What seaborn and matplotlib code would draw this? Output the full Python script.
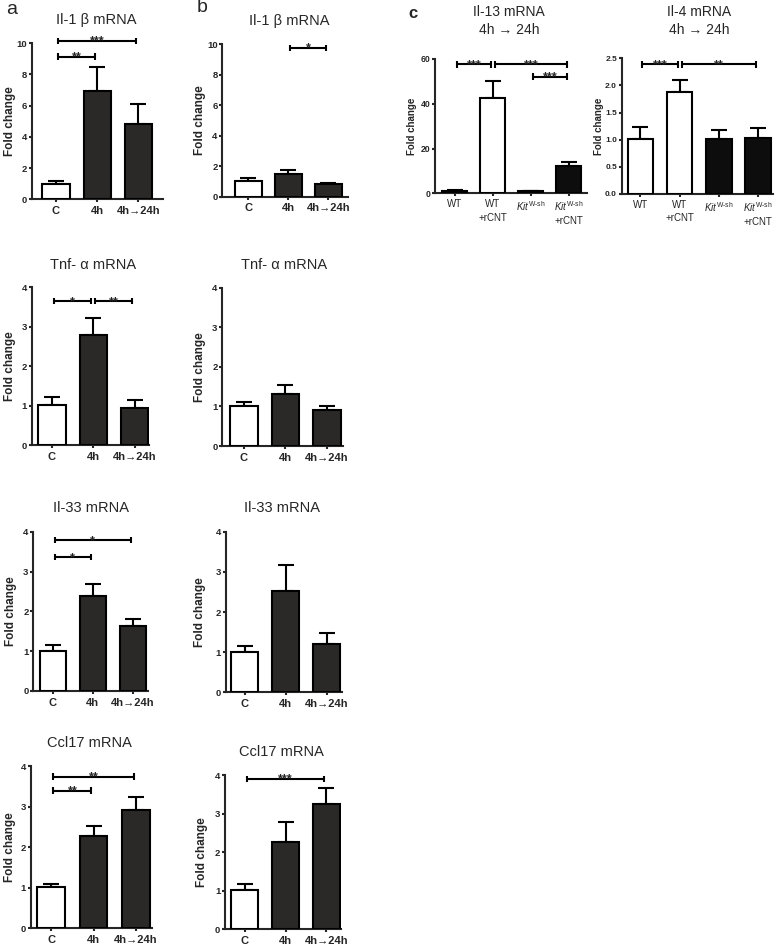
import numpy as np
import pandas as pd
import matplotlib
matplotlib.use('Agg')
import matplotlib.pyplot as plt
import seaborn as sns

sns.set_style('ticks')
plt.rcParams['font.family'] = ['Liberation Sans', 'DejaVu Sans']
plt.rcParams['mathtext.fontset'] = 'custom'
plt.rcParams['mathtext.rm'] = 'Liberation Sans'
plt.rcParams['mathtext.it'] = 'Liberation Sans:italic'
plt.rcParams['mathtext.bf'] = 'Liberation Sans:bold'

# ---------------- data ----------------
groups_ab = ['C', '4h', '4h→24h']
colors_ab = ['white', '#2b2828', '#2b2828']

il1b_a_mean = [1.0, 6.95, 4.85]
il1b_a_sem = [0.15, 1.5, 1.27]
il1b_b_mean = [1.0, 1.47, 0.81]
il1b_b_sem = [0.2, 0.28, 0.09]

tnf_a_mean = [1.01, 2.79, 0.95]
tnf_a_sem = [0.22, 0.44, 0.19]
tnf_b_mean = [1.02, 1.31, 0.91]
tnf_b_sem = [0.08, 0.23, 0.11]

il33_a_mean = [1.0, 2.38, 1.62]
il33_a_sem = [0.15, 0.31, 0.2]
il33_b_mean = [1.01, 2.52, 1.2]
il33_b_sem = [0.15, 0.66, 0.27]

ccl17_a_mean = [1.02, 2.27, 2.91]
ccl17_a_sem = [0.08, 0.25, 0.33]
ccl17_b_mean = [1.01, 2.27, 3.24]
ccl17_b_sem = [0.16, 0.52, 0.43]

groups_c = ['WT', 'WT\n+rCNT', r'$\mathit{Kit}^{\mathrm{W\text{-}sh}}$',
            r'$\mathit{Kit}^{\mathrm{W\text{-}sh}}$' + '\n+rCNT']
colors_c = ['white', 'white', '#0d0d0d', '#0d0d0d']
il13_mean = [1.0, 42.7, 1.0, 12.4]
il13_sem = [0.3, 7.4, 0.2, 1.5]
il4_mean = [1.02, 1.886, 1.01, 1.04]
il4_sem = [0.22, 0.22, 0.17, 0.18]

# significance: (i, j, y, label)
sig_il1b_a = [(0, 1, 9.15, '**'), (0, 2, 10.15, '***')]
sig_il1b_b = [(1, 2, 9.76, '*')]
sig_tnf_a = [(0, 1, 3.65, '*'), (1, 2, 3.65, '**')]
sig_il33_a = [(0, 1, 3.36, '*'), (0, 2, 3.79, '*')]
sig_ccl17_a = [(0, 1, 3.39, '**'), (0, 2, 3.74, '**')]
sig_ccl17_b = [(0, 2, 3.9, '***')]
sig_il13 = [(0, 1, 57.6, '***'), (1, 3, 57.6, '***'), (2, 3, 52.1, '***')]
sig_il4 = [(0, 1, 2.39, '***'), (1, 3, 2.39, '**')]

W, H = 778, 946
fig = plt.figure(figsize=(W / 100, H / 100), dpi=100)
fig.patch.set_facecolor('white')


def panel(rect, cats, means, errs, colors, ymax, yticks, xlim, sigs,
          ylab_x, title, title_xy, xbold=True, xsize=8.0, ylab_size=8.5,
          title_size=10.5, yfmt=None, ysize=6.8, xpad=2.4, xls=1.2):
    L, R, B, T = rect
    ax = fig.add_axes([L / W, 1 - B / H, (R - L) / W, (B - T) / H])
    df = pd.DataFrame({'group': cats, 'value': means})
    pal = dict(zip(cats, colors))
    sns.barplot(data=df, x='group', y='value', hue='group', order=cats,
                hue_order=cats, palette=pal, dodge=False, legend=False,
                width=0.66, edgecolor='black', linewidth=1.5, ax=ax,
                zorder=3)
    n = len(cats)
    ax.errorbar(np.arange(n), means, yerr=[np.zeros(n), errs], fmt='none',
                ecolor='black', elinewidth=1.5, capsize=5.5, capthick=1.5,
                zorder=2)
    ax.set_xlim(*xlim)
    ax.set_ylim(0, ymax)
    ax.set_yticks(yticks)
    if yfmt:
        ax.set_yticklabels([yfmt.format(v) for v in yticks])
    ax.set_xlabel('')
    ax.set_ylabel('')
    sns.despine(ax=ax)
    for s in ['left', 'bottom']:
        ax.spines[s].set_linewidth(1.5)
    ax.tick_params(axis='both', width=1.5, length=2.4, pad=1.0)
    ax.tick_params(axis='x', pad=xpad)
    for lab in ax.get_yticklabels():
        lab.set_fontweight('bold')
        lab.set_fontsize(ysize)
    for lab in ax.get_xticklabels():
        lab.set_fontweight('bold' if xbold else 'normal')
        lab.set_fontsize(xsize)
        lab.set_linespacing(xls)
    ax.set_facecolor('none')
    # brackets
    hpx = B - T
    dy = 3.3 / hpx * ymax
    for i, j, y, s in sigs:
        x1, x2 = i + 0.05, j - 0.05
        ax.plot([x1, x2], [y, y], color='black', lw=1.5, clip_on=False,
                solid_capstyle='butt')
        ax.plot([x1, x1], [y - dy, y + dy], color='black', lw=1.5,
                clip_on=False, solid_capstyle='butt')
        ax.plot([x2, x2], [y - dy, y + dy], color='black', lw=1.5,
                clip_on=False, solid_capstyle='butt')
        ax.annotate(s, xy=((i + j) / 2, y), xytext=(0, -2.6),
                    textcoords='offset points', ha='center', va='baseline',
                    fontsize=9, fontweight='bold', annotation_clip=False)
    fig.text(ylab_x / W, 1 - (B + T) / 2 / H, 'Fold change', rotation=90,
             ha='center', va='center', fontweight='bold', fontsize=ylab_size)
    fig.text(title_xy[0] / W, 1 - title_xy[1] / H, title, ha='center',
             va='center', fontsize=title_size, linespacing=1.35)
    return ax


# column a / b rows
panel((31.7, 163.3, 199.3, 43.3), groups_ab, il1b_a_mean, il1b_a_sem,
      colors_ab, 10, [0, 2, 4, 6, 8, 10], (-0.59, 2.61), sig_il1b_a,
      10, 'Il-1 β mRNA', (96, 20))
panel((222.3, 348.3, 196.7, 44.3), groups_ab, il1b_b_mean, il1b_b_sem,
      colors_ab, 10, [0, 2, 4, 6, 8, 10], (-0.65, 2.5), sig_il1b_b,
      200, 'Il-1 β mRNA', (289, 21.5))

panel((31.7, 149, 445, 287.3), groups_ab, tnf_a_mean, tnf_a_sem,
      colors_ab, 4, [0, 1, 2, 3, 4], (-0.49, 2.35), sig_tnf_a,
      10, 'Tnf- α mRNA', (93, 265))
panel((222.3, 343, 446, 287.7), groups_ab, tnf_b_mean, tnf_b_sem,
      colors_ab, 4, [0, 1, 2, 3, 4], (-0.52, 2.39), [],
      200, 'Tnf- α mRNA', (284, 265))

panel((33.3, 148, 691, 531.7), groups_ab, il33_a_mean, il33_a_sem,
      colors_ab, 4, [0, 1, 2, 3, 4], (-0.49, 2.38), sig_il33_a,
      11, 'Il-33 mRNA', (91, 507.5))
panel((225.7, 341.7, 692.3, 531.7), groups_ab, il33_b_mean, il33_b_sem,
      colors_ab, 4, [0, 1, 2, 3, 4], (-0.47, 2.37), [],
      200, 'Il-33 mRNA', (282, 507.5))

panel((30.7, 151.7, 928.3, 766), groups_ab, ccl17_a_mean, ccl17_a_sem,
      colors_ab, 4, [0, 1, 2, 3, 4], (-0.49, 2.38), sig_ccl17_a,
      10, 'Ccl17 mRNA', (89, 743))
panel((225, 340.7, 929, 775), groups_ab, ccl17_b_mean, ccl17_b_sem,
      colors_ab, 4, [0, 1, 2, 3, 4], (-0.48, 2.35), sig_ccl17_b,
      202, 'Ccl17 mRNA', (281, 752))

# column c
panel((435, 586.7, 193.3, 59), groups_c, il13_mean, il13_sem, colors_c,
      60, [0, 20, 40, 60], (-0.52, 3.47), sig_il13, 411.7,
      'Il-13 mRNA\n4h → 24h', (509, 21), xbold=False, xsize=7,
      ylab_size=7.0, title_size=10, ysize=6.2, xpad=2.0, xls=1.4)
panel((621.7, 773, 194, 58.3), groups_c, il4_mean, il4_sem, colors_c,
      2.5, [0, 0.5, 1.0, 1.5, 2.0, 2.5], (-0.48, 3.39), sig_il4, 598.5,
      'Il-4 mRNA\n4h → 24h', (699, 21), xbold=False, xsize=7,
      ylab_size=7.0, title_size=10, yfmt='{:.1f}', ysize=6.0, xpad=2.0,
      xls=1.4)

# panel letters
fig.text(12 / W, 1 - 10 / H, 'a', ha='center', va='center', fontsize=14)
fig.text(202 / W, 1 - 8 / H, 'b', ha='center', va='center', fontsize=14)
fig.text(413 / W, 1 - 13 / H, 'c', ha='center', va='center', fontsize=12,
         fontweight='bold')

fig.savefig('out.png', dpi=100, facecolor='white')
